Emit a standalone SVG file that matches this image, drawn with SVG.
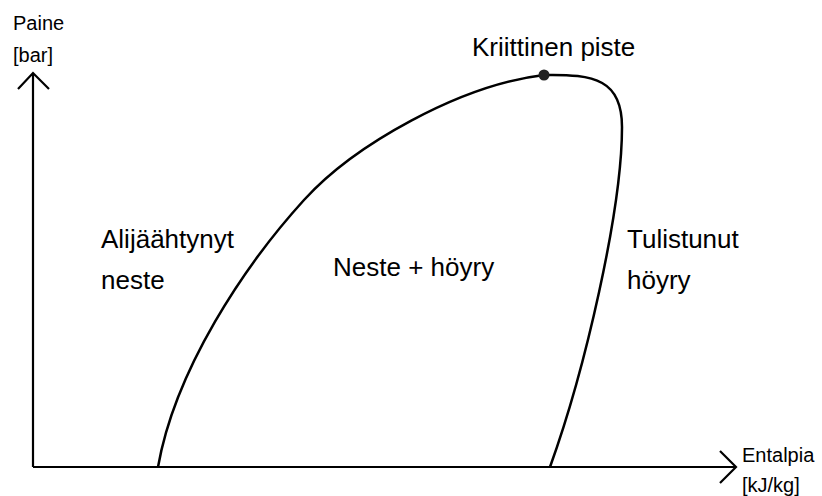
<svg xmlns="http://www.w3.org/2000/svg" width="822" height="496" viewBox="0 0 822 496">
<style>
.ln{fill:none;stroke:#000;stroke-width:2.5;stroke-linejoin:round;stroke-linecap:butt}
.ax{fill:none;stroke:#000;stroke-width:2.2}
.lb{font-family:"Liberation Sans",Arial,sans-serif;font-size:26px;fill:#000}
.sm{font-family:"Liberation Sans",Arial,sans-serif;font-size:20px;fill:#000}
</style>
<rect width="822" height="496" fill="#fff"/>
<g id="connectors">
<path class="ax" d="M33,467 V73 M18,89 L33,73 L49,89"/>
<path class="ax" d="M33,467 H735 M720,451 L736,467 L720,483"/>
<path class="ln" d="M158,467 C175,370 244,266 304,200 C354,145 460,85 544,75 C595,74 622,80 622,127 C622,210 585,370 550,467"/>
</g>
<g id="axis-y"><text class="sm" x="13" y="30">Paine</text><text class="sm" x="13" y="62">[bar]</text></g>
<g id="axis-x"><text class="sm" x="742" y="462">Entalpia</text><text class="sm" x="742" y="492">[kJ/kg]</text></g>
<g id="critical-point"><circle cx="544" cy="75" r="5.5" fill="#222"/><text class="lb" x="472" y="56">Kriittinen piste</text></g>
<g id="subcooled"><text class="lb" x="101" y="248">Alijäähtynyt</text><text class="lb" x="101" y="289">neste</text></g>
<g id="two-phase"><text class="lb" x="333" y="276">Neste + höyry</text></g>
<g id="superheated"><text class="lb" x="627" y="248">Tulistunut</text><text class="lb" x="627" y="289">höyry</text></g>
</svg>
